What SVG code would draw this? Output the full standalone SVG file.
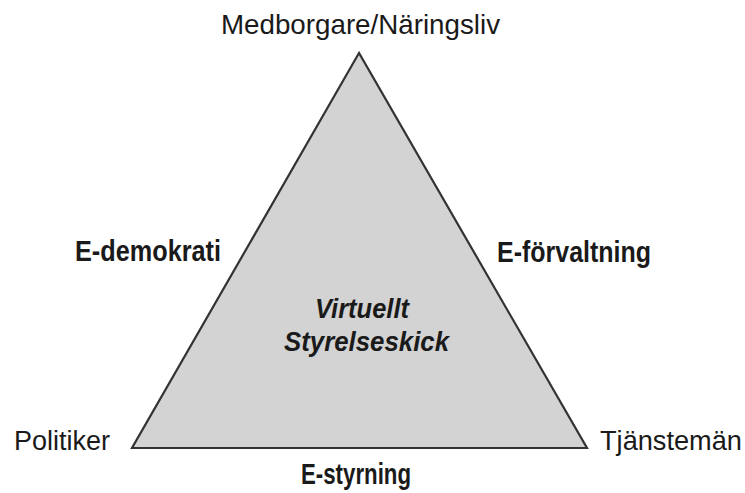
<svg xmlns="http://www.w3.org/2000/svg" width="745" height="493" viewBox="0 0 745 493">
<style>
text{font-family:"Liberation Sans",Arial,sans-serif;fill:#1a1a1a}
.r{font-size:27.5px}
.b{font-size:29px;font-weight:bold}
.c{font-size:27px;font-weight:bold;font-style:italic}
</style>
<rect width="745" height="493" fill="#ffffff"/>
<g id="triangle">
<polygon points="359,53 132,448 587,448" fill="#d3d3d3" stroke="#333333" stroke-width="2.2" stroke-linejoin="miter"/>
<text class="c" x="315" y="318" textLength="94" lengthAdjust="spacingAndGlyphs">Virtuellt</text>
<text class="c" x="284" y="351" textLength="165" lengthAdjust="spacingAndGlyphs">Styrelseskick</text>
</g>
<g id="top"><text class="r" x="221" y="34" textLength="279" lengthAdjust="spacingAndGlyphs">Medborgare/Näringsliv</text></g>
<g id="left"><text class="r" x="14" y="450" textLength="96" lengthAdjust="spacingAndGlyphs">Politiker</text></g>
<g id="right"><text class="r" x="600" y="450" textLength="142" lengthAdjust="spacingAndGlyphs">Tjänstemän</text></g>
<g id="edem"><text class="b" x="75" y="261" textLength="146" lengthAdjust="spacingAndGlyphs">E-demokrati</text></g>
<g id="efor"><text class="b" x="497" y="262" textLength="154" lengthAdjust="spacingAndGlyphs">E-förvaltning</text></g>
<g id="esty"><text class="b" x="301" y="484" textLength="110" lengthAdjust="spacingAndGlyphs">E-styrning</text></g>
<g id="connectors"></g>
</svg>
